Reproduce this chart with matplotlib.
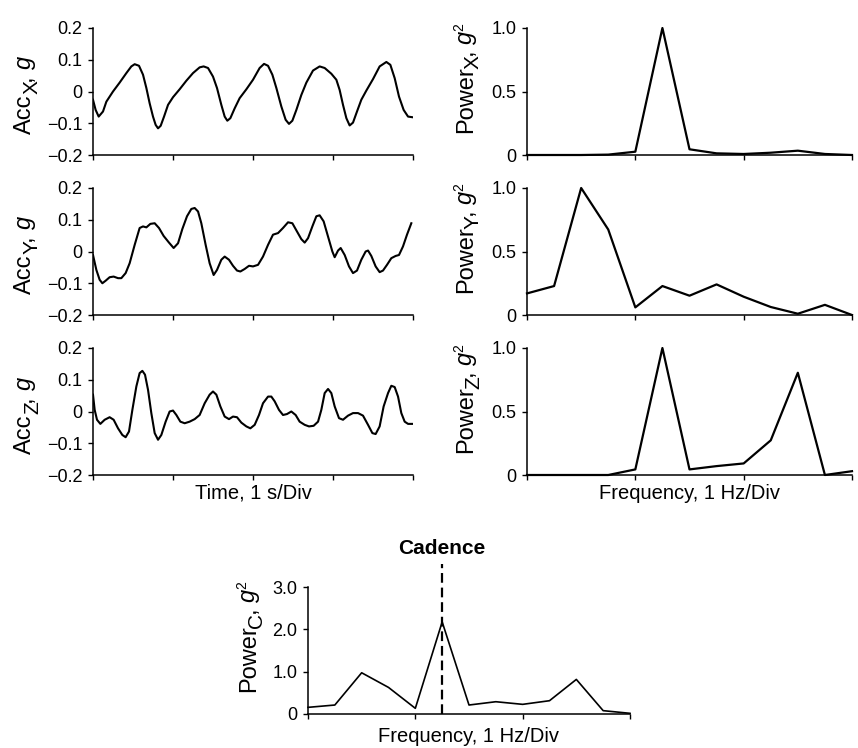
import numpy as np
import matplotlib
matplotlib.use('Agg')
import matplotlib.pyplot as plt

plt.rcParams['font.family'] = ['Liberation Sans', 'DejaVu Sans']
plt.rcParams['lines.scale_dashes'] = False

# acceleration traces, time in s
t_x = [0, 0.033, 0.071, 0.125, 0.167, 0.25, 0.333, 0.417, 0.479, 0.521, 0.575, 0.625, 0.667, 0.708, 0.75,
       0.783, 0.813, 0.846, 0.888, 0.938, 1.0, 1.083, 1.167, 1.25, 1.333, 1.383, 1.438, 1.5, 1.55, 1.604,
       1.646, 1.679, 1.717, 1.771, 1.833, 1.917, 2.0, 2.083, 2.138, 2.188, 2.242, 2.292, 2.354, 2.408, 2.45,
       2.492, 2.542, 2.604, 2.667, 2.75, 2.833, 2.896, 2.979, 3.042, 3.083, 3.125, 3.167, 3.208, 3.25, 3.3,
       3.354, 3.417, 3.5, 3.583, 3.667, 3.717, 3.771, 3.825, 3.883, 3.938, 3.992]
acc_x = [-0.026, -0.058, -0.079, -0.063, -0.032, 0.0, 0.028, 0.058, 0.079, 0.086, 0.081, 0.053, 0.011, -0.037, -0.079,
         -0.105, -0.116, -0.108, -0.079, -0.042, -0.018, 0.007, 0.034, 0.058, 0.076, 0.079, 0.074, 0.047, 0.011, -0.042,
         -0.079, -0.092, -0.084, -0.053, -0.021, 0.007, 0.037, 0.074, 0.087, 0.081, 0.053, 0.011, -0.047, -0.089, -0.102,
         -0.092, -0.058, -0.011, 0.028, 0.066, 0.079, 0.074, 0.056, 0.037, 0.005, -0.042, -0.084, -0.107, -0.098, -0.063,
         -0.026, 0.003, 0.039, 0.079, 0.093, 0.084, 0.042, -0.016, -0.058, -0.079, -0.081]

t_y = [0, 0.042, 0.083, 0.117, 0.158, 0.208, 0.258, 0.313, 0.354, 0.408, 0.458, 0.521, 0.583, 0.625, 0.667,
       0.717, 0.771, 0.825, 0.883, 0.95, 1.008, 1.063, 1.117, 1.175, 1.229, 1.271, 1.313, 1.354, 1.408, 1.458,
       1.508, 1.55, 1.604, 1.646, 1.7, 1.75, 1.8, 1.842, 1.896, 1.95, 2.0, 2.063, 2.125, 2.188, 2.25,
       2.313, 2.375, 2.438, 2.492, 2.55, 2.604, 2.646, 2.688, 2.742, 2.792, 2.833, 2.883, 2.938, 2.992, 3.021,
       3.063, 3.096, 3.146, 3.2, 3.25, 3.3, 3.354, 3.408, 3.438, 3.479, 3.533, 3.583, 3.625, 3.675, 3.729,
       3.783, 3.825, 3.875, 3.925, 3.979]
acc_y = [-0.011, -0.058, -0.089, -0.1, -0.092, -0.081, -0.079, -0.084, -0.084, -0.068, -0.037, 0.021, 0.074, 0.079, 0.076,
         0.087, 0.089, 0.074, 0.049, 0.028, 0.011, 0.026, 0.071, 0.111, 0.134, 0.137, 0.126, 0.089, 0.021, -0.037,
         -0.074, -0.058, -0.026, -0.016, -0.026, -0.045, -0.06, -0.063, -0.055, -0.045, -0.047, -0.042, -0.016, 0.021, 0.053,
         0.058, 0.074, 0.092, 0.089, 0.063, 0.039, 0.028, 0.042, 0.079, 0.111, 0.114, 0.095, 0.047, 0.0, -0.018,
         0.003, 0.011, -0.011, -0.047, -0.068, -0.06, -0.026, 0.0, 0.003, -0.014, -0.047, -0.065, -0.06, -0.042, -0.021,
         -0.014, -0.011, 0.016, 0.053, 0.089]

t_z = [0, 0.021, 0.05, 0.092, 0.146, 0.208, 0.258, 0.313, 0.367, 0.408, 0.45, 0.492, 0.542, 0.583, 0.617,
       0.65, 0.688, 0.729, 0.771, 0.813, 0.854, 0.908, 0.958, 1.0, 1.042, 1.092, 1.146, 1.208, 1.271, 1.333,
       1.396, 1.458, 1.5, 1.542, 1.592, 1.646, 1.7, 1.75, 1.8, 1.854, 1.917, 1.967, 2.021, 2.075, 2.125,
       2.188, 2.229, 2.271, 2.325, 2.375, 2.425, 2.479, 2.533, 2.583, 2.646, 2.7, 2.758, 2.813, 2.854, 2.896,
       2.938, 2.979, 3.021, 3.075, 3.125, 3.188, 3.25, 3.313, 3.375, 3.438, 3.492, 3.533, 3.583, 3.633, 3.688,
       3.729, 3.771, 3.813, 3.854, 3.896, 3.938, 3.992]
acc_z = [0.053, 0.005, -0.026, -0.039, -0.026, -0.018, -0.026, -0.053, -0.074, -0.081, -0.063, 0.005, 0.079, 0.121, 0.128,
         0.116, 0.068, -0.005, -0.068, -0.089, -0.074, -0.032, 0.0, 0.003, -0.011, -0.032, -0.037, -0.032, -0.024, -0.011,
         0.026, 0.053, 0.063, 0.053, 0.016, -0.016, -0.024, -0.016, -0.018, -0.035, -0.047, -0.053, -0.042, -0.011, 0.026,
         0.047, 0.047, 0.032, 0.005, -0.011, -0.008, 0.0, -0.011, -0.032, -0.042, -0.047, -0.045, -0.032, 0.005, 0.058,
         0.071, 0.058, 0.016, -0.021, -0.026, -0.013, -0.005, -0.005, -0.013, -0.042, -0.068, -0.071, -0.047, 0.016, 0.058,
         0.081, 0.077, 0.047, -0.005, -0.032, -0.039, -0.039]

# power spectra, 0.25 Hz bins
freq = [0, 0.25, 0.5, 0.75, 1.0, 1.25, 1.5, 1.75, 2.0, 2.25, 2.5, 2.75, 3.0]
pow_x = [0, 0, 0, 0.003, 0.026, 1.0, 0.045, 0.013, 0.008, 0.018, 0.034, 0.008, 0]
pow_y = [0.17, 0.228, 1.0, 0.673, 0.06, 0.228, 0.152, 0.241, 0.144, 0.063, 0.01, 0.08, 0]
pow_z = [0, 0, 0, 0, 0.044, 1.0, 0.044, 0.07, 0.091, 0.273, 0.805, 0.0, 0.03]
pow_c = [0.157, 0.212, 0.974, 0.628, 0.134, 2.176, 0.212, 0.29, 0.228, 0.314, 0.817, 0.079, 0.016]
cadence = 1.25

W, H = 858.0, 748.0


def make_axes(fig, x0, x1, y_top, y_bot):
    ax = fig.add_axes([x0 / W, 1 - y_bot / H, (x1 - x0) / W, (y_bot - y_top) / H])
    ax.spines['top'].set_visible(False)
    ax.spines['right'].set_visible(False)
    ax.spines['left'].set_linewidth(1.1)
    ax.spines['bottom'].set_linewidth(1.1)
    ax.tick_params(direction='out', length=3.5, width=1.0, labelsize=13, pad=4)
    ax.tick_params(axis='x', labelbottom=False)
    return ax


def vlabel(fig, ax, parts, dx, dy):
    # rotated label built piece by piece so the subscript keeps a large size
    # parts: (text, fontsize, fontstyle, baseline shift in px (+ = down), extra advance px)
    r = fig.canvas.get_renderer()
    pos = ax.get_position()
    xb = pos.x0 * W + dx
    y = pos.y0 * H + dy
    for s, size, style, shift, kern in parts:
        if s != ' ':
            t = fig.text((xb + shift) / W, y / H, s, fontsize=size, fontstyle=style,
                         rotation=90, rotation_mode='anchor', ha='left', va='baseline')
            y += t.get_window_extent(r).height
        y += kern


def acc_label(name):
    return [('Acc', 17, 'normal', 0, 0), (name, 15, 'normal', 7, 0), (',', 17, 'normal', 0, 0),
            (' ', 17, 'normal', 0, 5), ('g', 17, 'italic', 0, 0)]


def pow_label(name):
    return [('Power', 17, 'normal', 0, -3), (name, 15, 'normal', 7, 0), (',', 17, 'normal', 0, 0),
            (' ', 17, 'normal', 0, 5), ('g', 17, 'italic', 0, 0), ('2', 10, 'normal', -9, 0)]


fig = plt.figure(figsize=(8.58, 7.48), dpi=100)

rows = [(28, 155), (188, 315), (348, 475)]
acc = [(t_x, acc_x, 'X'), (t_y, acc_y, 'Y'), (t_z, acc_z, 'Z')]
pw = [(pow_x, 'X'), (pow_y, 'Y'), (pow_z, 'Z')]

for i in range(3):
    top, bot = rows[i]
    ax = make_axes(fig, 93, 413, top, bot)
    t, a, name = acc[i]
    ax.plot(t, a, color='black', lw=1.5)
    ax.set_xlim(0, 4)
    ax.set_ylim(-0.2, 0.2)
    ax.set_xticks([0, 1, 2, 3, 4])
    ax.set_yticks([-0.2, -0.1, 0, 0.1, 0.2])
    ax.set_yticklabels(['\u22120.2', '\u22120.1', '0', '0.1', '0.2'])
    vlabel(fig, ax, acc_label(name), -62, 21)
    if i == 2:
        ax.text(0.5, -0.142, 'Time, 1 s/Div', transform=ax.transAxes, ha='center', va='center', fontsize=14.5)

    ax2 = make_axes(fig, 527, 852, top, bot)
    p, name = pw[i]
    ax2.plot(freq, p, color='black', lw=1.6, clip_on=False)
    ax2.set_xlim(0, 3)
    ax2.set_ylim(0, 1.0)
    ax2.set_xticks([0, 1, 2, 3])
    ax2.set_yticks([0, 0.5, 1.0])
    ax2.set_yticklabels(['0', '0.5', '1.0'])
    vlabel(fig, ax2, pow_label(name), -55, 22)
    if i == 2:
        ax2.text(0.5, -0.142, 'Frequency, 1 Hz/Div', transform=ax2.transAxes, ha='center', va='center', fontsize=14.5)

# combined spectrum with cadence marker
ax = make_axes(fig, 308, 630, 587, 714)
ax.plot(freq, pow_c, color='black', lw=1.2, clip_on=False)
ax.set_xlim(0, 3)
ax.set_ylim(0, 3.0)
ax.set_xticks([0, 1, 2, 3])
ax.set_yticks([0, 1.0, 2.0, 3.0])
ax.set_yticklabels(['0', '1.0', '2.0', '3.0'])
vlabel(fig, ax, pow_label('C'), -53, 22)
ax.plot([cadence, cadence], [0, 3.55], color='black', lw=1.6, dashes=(7, 3.5), clip_on=False)
ax.text(cadence, 3.9, 'Cadence', ha='center', va='center', fontsize=15, fontweight='bold')
ax.text(0.5, -0.181, 'Frequency, 1 Hz/Div', transform=ax.transAxes, ha='center', va='center', fontsize=14.5)

fig.savefig('out.png', dpi=100)
